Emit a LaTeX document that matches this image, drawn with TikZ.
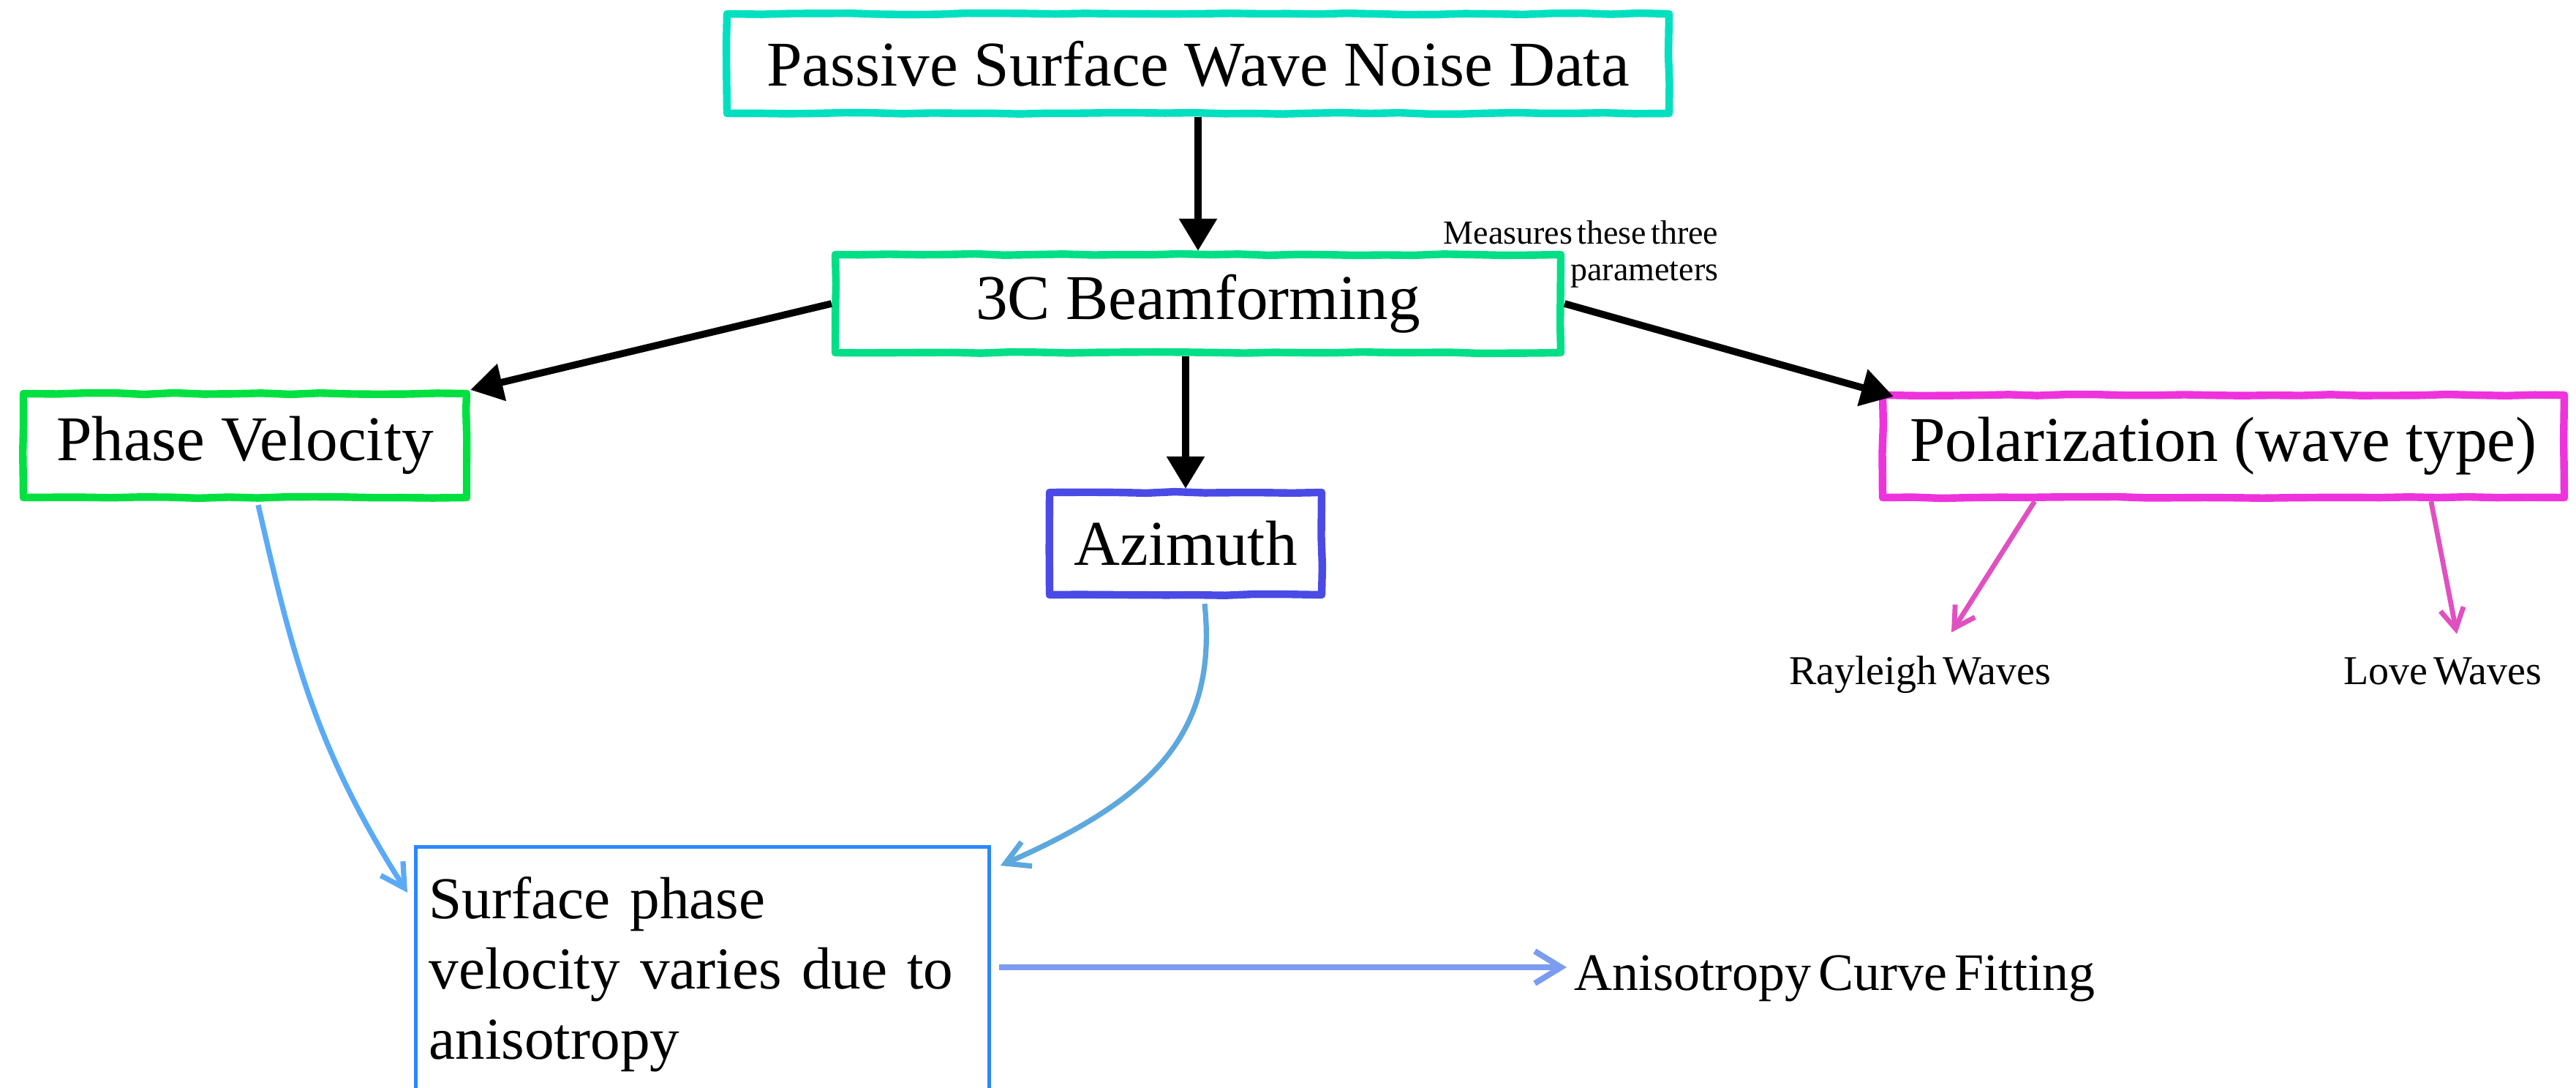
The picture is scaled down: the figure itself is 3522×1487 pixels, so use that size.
\documentclass[tikz,border=0pt]{standalone}
\usepackage{fontspec}
\setmainfont{Liberation Serif}
\newfontfamily\tightfont{Liberation Serif}[WordSpace=0.55]
\usetikzlibrary{arrows.meta,decorations.pathmorphing,calc}
\definecolor{cTop}{HTML}{00E0C0}
\definecolor{cBeam}{HTML}{00DF85}
\definecolor{cPV}{HTML}{00E040}
\definecolor{cAz}{HTML}{4A4AE6}
\definecolor{cPol}{HTML}{EE33DD}
\definecolor{cPink}{HTML}{E050C0}
\definecolor{cBlueL}{HTML}{5AAAF8}
\definecolor{cBlueR}{HTML}{5DA8DD}
\definecolor{cSurf}{HTML}{2A88FF}
\definecolor{cRgt}{HTML}{7B9CF0}
\tikzset{
  hbox/.style={draw, line width=2.6pt, line join=round,
    decorate, decoration={random steps, segment length=10pt, amplitude=0.25pt},
    font=\fontsize{21.8}{24}\selectfont, inner sep=0pt},
  lab/.style={inner sep=0pt},
  blk/.style={line width=2.4pt, -{Triangle[length=11pt,width=12.5pt]}},
  pnk/.style={draw=cPink, line width=1.7pt, -{Straight Barb[length=7pt,width=8pt]}},
  blu/.style={line width=1.8pt, -{Straight Barb[length=8pt,width=9pt]}},
  rgt/.style={draw=cRgt, line width=2pt, -{Straight Barb[length=9pt,width=11pt]}}
}
\begin{document}
\begin{tikzpicture}[x=0.25pt,y=-0.25pt]
\useasboundingbox (0,0) rectangle (3522,1487);
\clip (0,0) rectangle (3522,1487);
\pgfmathsetseed{7}
\node[hbox, draw=cTop, minimum width=322pt, minimum height=34pt] (top) at (1638,87) {Passive Surface Wave Noise Data};
\node[hbox, draw=cBeam, minimum width=248pt, minimum height=33.5pt] (beam) at (1638,415) {3C Beamforming};
\node[hbox, draw=cPV, minimum width=151.5pt, minimum height=35.5pt] (pv) at (335,609) {Phase Velocity};
\node[hbox, draw=cAz, minimum width=93pt, minimum height=35pt] (az) at (1621,743) {Azimuth};
\node[hbox, draw=cPol, minimum width=233pt, minimum height=35pt] (pol) at (3040,610) {Polarization (wave type)};
\node[lab, font=\tightfont\fontsize{11.5}{12.5}\selectfont, align=right, anchor=north east] (meas) at (2350,301) {Measures these three\\parameters};
\node[lab, font=\tightfont\fontsize{14}{16}\selectfont, anchor=base] (ray) at (2625,935) {Rayleigh Waves};
\node[lab, font=\tightfont\fontsize{14}{16}\selectfont, anchor=base] (love) at (3340,935) {Love Waves};
\node[draw=cSurf, line width=1.2pt, anchor=north west, align=left, text width=187pt, minimum width=196pt,
  inner xsep=4.5pt, inner ysep=10.2pt, font=\fontsize{20.3}{24}\selectfont] (surf) at (566,1155)
  {Surface phase\\velocity varies due to\\anisotropy};
\node[lab, font=\tightfont\fontsize{18}{20}\selectfont, anchor=base west] (fit) at (2152,1353) {Anisotropy Curve Fitting};
% black arrows
\draw[blk] (top.south) -- (beam.north);
\draw[blk] (beam.west) -- (pv.north east);
\draw[blk] (beam.south -| az.north) -- (az.north);
\draw[blk] (beam.east) -- ([shift={(20,7)}]pol.north west);
% pink arrows
\draw[pnk] ([shift={(213,0)}]pol.south west) -- ([shift={(43,-31)}]ray.north);
\draw[pnk] ([shift={(755,0)}]pol.south west) -- ([shift={(19,-31)}]love.north);
% blue curves
\draw[blu, draw=cBlueL] ([shift={(18,5)}]pv.south) .. controls (399,890) and (429,1020) .. ([shift={(-9,65)}]surf.north west);
\draw[blu, draw=cBlueR] ([shift={(26,7)}]az.south) .. controls (1665,1000) and (1580,1090) .. ([shift={(13,28)}]surf.north east);
% right arrow
\draw[rgt] ([shift={(11,167)}]surf.north east) -- ([shift={(-10,-31)}]fit.base west);
\end{tikzpicture}
\end{document}
